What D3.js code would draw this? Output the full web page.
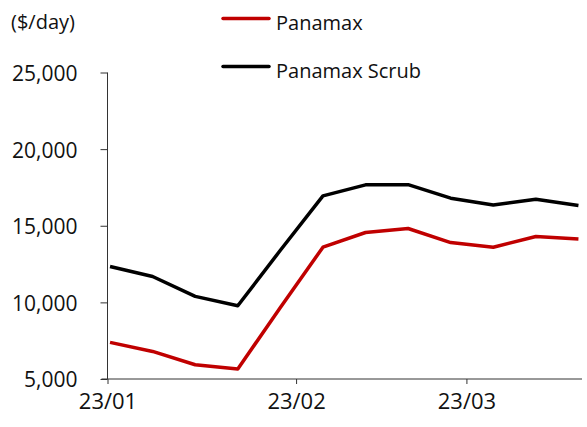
<!DOCTYPE html>
<html>
<head>
<meta charset="utf-8">
<script src="https://cdn.jsdelivr.net/npm/d3@7"></script>
<style>
  body { margin: 0; background: #fff; }
  svg text { font-family: "Open Sans", "Noto Sans", sans-serif; fill: #111; }
</style>
</head>
<body>
<div class="chart"></div>
<script>
// weekly dates
const dates = ["2023-01-01", "2023-01-08", "2023-01-15", "2023-01-22", "2023-01-29", "2023-02-05",
               "2023-02-12", "2023-02-19", "2023-02-26", "2023-03-05", "2023-03-12", "2023-03-19"];
const panamax = [7390, 6800, 5930, 5650, 9670, 13600, 14560, 14820, 13900, 13600, 14300, 14130];
const panamaxScrub = [12340, 11690, 10390, 9780, 13400, 16950, 17670, 17680, 16800, 16360, 16730, 16320];
const yTicks = [5000, 10000, 15000, 20000, 25000];
const xTicks = ["2023-01-01", "2023-02-01", "2023-03-01"];

const seriesList = [
  { name: "Panamax", values: panamax, color: "#c00000" },
  { name: "Panamax Scrub", values: panamaxScrub, color: "#000000" }
];

const width = 587, height = 427;
const parse = d3.timeParse("%Y-%m-%d");

const svg = d3.select(".chart").append("svg")
  .attr("width", width)
  .attr("height", height);

const x = d3.scaleTime()
  .domain([parse("2023-01-01"), parse("2023-03-20")])
  .range([107.5, 582]);

const y = d3.scaleLinear()
  .domain([5000, 25000])
  .range([379, 72.5]);

// y axis
const yAxis = svg.append("g")
  .attr("transform", "translate(107.5,0)")
  .call(d3.axisLeft(y).tickValues(yTicks).tickSize(7).tickPadding(23)
    .tickFormat(d3.format(",")));
yAxis.select(".domain").attr("d", "M0," + y(25000) + "V" + y(5000)).attr("stroke", "#333");
yAxis.selectAll(".tick line").attr("stroke", "#333");
yAxis.selectAll("text").style("font-size", "21px").attr("dy", "0.38em");

// x axis
const xAxis = svg.append("g")
  .attr("transform", "translate(0,379)")
  .call(d3.axisBottom(x).tickValues(xTicks.map(parse)).tickSize(5).tickPadding(9)
    .tickFormat(d3.timeFormat("%y/%m")));
xAxis.select(".domain").attr("d", "M101.5,0H582").attr("stroke", "#333");
xAxis.selectAll(".tick line").attr("stroke", "#333");
xAxis.selectAll("text").style("font-size", "22px").attr("dy", "0.71em");

// lines (points sit mid-day)
const line = d3.line()
  .x((d, i) => x(d3.timeHour.offset(parse(dates[i]), 10)))
  .y(d => y(d));

svg.selectAll(".series")
  .data(seriesList)
  .enter().append("path")
  .attr("class", "series")
  .attr("d", d => line(d.values))
  .attr("fill", "none")
  .attr("stroke", d => d.color)
  .attr("stroke-width", 3.5)
  .attr("stroke-linejoin", "round");

// unit label
svg.append("text")
  .attr("x", 11)
  .attr("y", 29)
  .style("font-size", "20px")
  .text("($/day)");

// legend
const legend = svg.selectAll(".legend")
  .data(seriesList)
  .enter().append("g")
  .attr("class", "legend")
  .attr("transform", (d, i) => "translate(223," + (18.5 + i * 48) + ")");

legend.append("line")
  .attr("x1", 0).attr("x2", 46)
  .attr("stroke", d => d.color)
  .attr("stroke-width", 3.5)
  .attr("stroke-linecap", "round");

legend.append("text")
  .attr("x", 53)
  .attr("y", 11.5)
  .style("font-size", "20px")
  .text(d => d.name);
</script>
</body>
</html>
